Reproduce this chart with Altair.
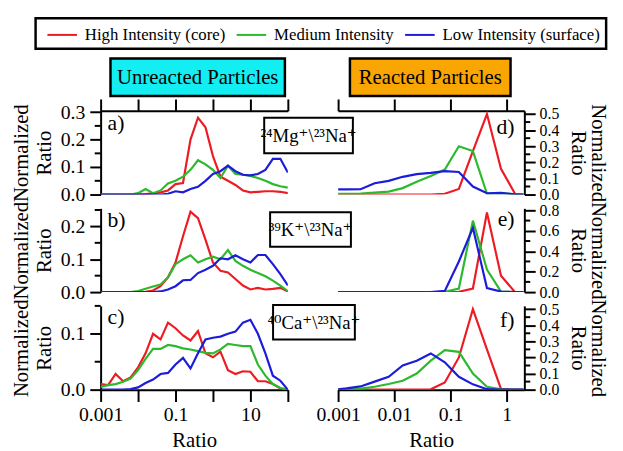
import altair as alt
import pandas as pd

FONT = "'Liberation Serif', 'Times New Roman', Tinos, 'DejaVu Serif', serif"
SERIES = ["High Intensity (core)", "Medium Intensity", "Low Intensity (surface)"]
COLORS = ["#ed1c24", "#2db92d", "#1c1cd9"]

# bin centres, as log10(ratio)
LEFT_LOG10 = [-3.0, -2.8, -2.6, -2.4, -2.2, -2.0, -1.8, -1.6, -1.4, -1.2, -1.0, -0.8, -0.6,
              -0.4, -0.2, 0.0, 0.2, 0.4, 0.6, 0.8, 1.0, 1.2, 1.4, 1.6, 1.8, 2.0]
RIGHT_LOG10 = [-3.0, -2.85, -2.6, -2.35, -2.1, -1.85, -1.6, -1.35, -1.1, -0.85, -0.6, -0.35,
               -0.1, 0.15, 0.3]

# a) 24Mg+/23Na+ unreacted
A_HIGH = [0, 0, 0, 0, 0, 0.001, 0.002, 0.004, 0.008, 0.015, 0.038, 0.042, 0.20, 0.28, 0.245,
          0.14, 0.065, 0.05, 0.035, 0.015, 0.008, 0.01, 0.012, 0.012, 0.01, 0.005]
A_MED = [0, 0, 0, 0, 0, 0.005, 0.02, 0.005, 0.015, 0.04, 0.05, 0.065, 0.09, 0.125, 0.11,
         0.09, 0.06, 0.105, 0.075, 0.072, 0.068, 0.06, 0.05, 0.038, 0.03, 0.025]
A_LOW = [0, 0, 0, 0, 0, 0, 0, 0, 0, 0.003, 0.012, 0.008, 0.02, 0.028, 0.05,
         0.075, 0.085, 0.105, 0.085, 0.072, 0.07, 0.075, 0.09, 0.13, 0.13, 0.08]
# b) 39K+/23Na+ unreacted
B_HIGH = [0, 0, 0, 0, 0, 0, 0.001, 0.005, 0.018, 0.045, 0.09, 0.17, 0.245, 0.225, 0.16,
          0.09, 0.065, 0.06, 0.04, 0.02, 0.008, 0.013, 0.008, 0.01, 0.013, 0.002]
B_MED = [0, 0, 0, 0, 0, 0.003, 0.01, 0.017, 0.023, 0.045, 0.085, 0.1, 0.112, 0.09, 0.1,
         0.108, 0.1, 0.128, 0.095, 0.08, 0.068, 0.058, 0.048, 0.035, 0.02, 0.003]
B_LOW = [0, 0, 0, 0, 0, 0, 0, 0, 0.002, 0.008, 0.018, 0.036, 0.037, 0.058, 0.068,
         0.08, 0.103, 0.1, 0.112, 0.1, 0.09, 0.113, 0.113, 0.085, 0.055, 0.02]
# c) 40Ca+/23Na+ unreacted
C_HIGH = [0.01, 0.008, 0.028, 0.015, 0.022, 0.04, 0.065, 0.1, 0.09, 0.12, 0.11, 0.097, 0.088,
          0.105, 0.065, 0.058, 0.068, 0.035, 0.028, 0.033, 0.032, 0.015, 0.015, 0.01, 0.002, 0.0]
C_MED = [0.005, 0.008, 0.01, 0.014, 0.02, 0.035, 0.055, 0.073, 0.073, 0.08, 0.078, 0.074, 0.072,
         0.069, 0.066, 0.065, 0.072, 0.082, 0.08, 0.078, 0.078, 0.045, 0.025, 0.01, 0.003, 0.0]
C_LOW = [0, 0, 0, 0, 0.001, 0.004, 0.012, 0.018, 0.028, 0.03, 0.045, 0.057, 0.038,
         0.065, 0.09, 0.093, 0.095, 0.1, 0.104, 0.12, 0.125, 0.1, 0.065, 0.025, 0.016, 0.0]
# d) reacted Mg
D_HIGH = [0, 0, 0, 0, 0, 0, 0, 0, 0.005, 0.035, 0.27, 0.5, 0.16, 0.005, 0]
D_MED = [0.005, 0.005, 0.006, 0.012, 0.018, 0.04, 0.08, 0.115, 0.155, 0.3, 0.27, 0.005, 0.008, 0.002, 0]
D_LOW = [0.032, 0.032, 0.033, 0.07, 0.085, 0.11, 0.127, 0.135, 0.145, 0.14, 0.05, 0.008, 0.01, 0.002, 0]
# e) reacted K
E_HIGH = [0, 0, 0, 0, 0, 0, 0, 0, 0, 0.003, 0.035, 0.78, 0.16, 0, 0]
E_MED = [0, 0, 0, 0, 0, 0, 0, 0, 0.003, 0.035, 0.7, 0.22, 0.005, 0, 0]
E_LOW = [0, 0, 0, 0, 0, 0, 0, 0, 0.012, 0.3, 0.63, 0.04, 0.005, 0, 0]
# f) reacted Ca
F_HIGH = [0, 0, 0, 0, 0, 0, 0, 0.002, 0.045, 0.2, 0.5, 0.25, 0.005, 0, 0]
F_MED = [0, 0.002, 0.006, 0.018, 0.035, 0.055, 0.1, 0.18, 0.245, 0.235, 0.1, 0.018, 0.002, 0, 0]
F_LOW = [0.002, 0.008, 0.02, 0.05, 0.08, 0.15, 0.18, 0.225, 0.17, 0.08, 0.033, 0.003, 0, 0, 0]

LEFT_X_TICKS = [0.001, 0.01, 0.1, 1, 10, 100]
RIGHT_X_TICKS = [0.001, 0.01, 0.1, 1]
LEFT_X_DOMAIN = [0.001, 100]
RIGHT_X_DOMAIN = [0.001, 2.07]

A_MAJOR, A_MINOR, A_DOM = [0.0, 0.1, 0.2, 0.3], [0.05, 0.15, 0.25], [0, 0.305]
B_MAJOR, B_MINOR, B_DOM = [0.0, 0.1, 0.2], [0.05, 0.15, 0.25], [0, 0.255]
C_MAJOR, C_MINOR, C_DOM = [0.0, 0.1], [0.05, 0.15], [0, 0.15]
D_MAJOR, D_MINOR, D_DOM = [0.0, 0.1, 0.2, 0.3, 0.4, 0.5], [0.05, 0.15, 0.25, 0.35, 0.45], [0, 0.52]
E_MAJOR, E_MINOR, E_DOM = [0.0, 0.2, 0.4, 0.6, 0.8], [0.1, 0.3, 0.5, 0.7], [0, 0.82]
F_MAJOR, F_MINOR, F_DOM = D_MAJOR, D_MINOR, [0, 0.52]

LW, RW, H = 190, 189, 85
ONE = pd.DataFrame({"k": [0]})
Y_TITLE = ["Normalized", "Ratio"]


def long_df(logx, high, med, low):
    rows = []
    for name, ys in zip(SERIES, [high, med, low]):
        for lx, y in zip(logx, ys):
            rows.append({"ratio": 10 ** lx, "value": y, "series": name})
    return pd.DataFrame(rows)


def text_at(txt, x, y, size, align="left", baseline="top"):
    return alt.Chart(ONE).mark_text(
        text=txt, font=FONT, fontSize=size, align=align, baseline=baseline, color="black"
    ).encode(x=alt.value(x), y=alt.value(y))


def box_at(x, x2, y, y2, fill, sw=2):
    return alt.Chart(ONE).mark_rect(fill=fill, stroke="black", strokeWidth=sw).encode(
        x=alt.value(x), x2=alt.value(x2), y=alt.value(y), y2=alt.value(y2))


def y_axis(side, majors):
    if side == "left":
        return alt.Axis(orient="left", values=majors, format=".1f", tickSize=11, labelPadding=5,
                        title=Y_TITLE, titlePadding=6, titleLineHeight=23,
                        labelOverlap=False, labelFlush=False)
    return alt.Axis(orient="right", values=majors, format=".1f", tickSize=11, labelPadding=4,
                    labelFontSize=16, title=Y_TITLE, titlePadding=9,
                    titleLineHeight=20, labelOverlap=False, labelFlush=False)


def minor_ticks(vals, ydom, yaxis, side, w):
    x0, x1 = (-6, 0) if side == "left" else (w, w + 6)
    return alt.Chart(pd.DataFrame({"value": vals})).mark_rule(color="black", strokeWidth=2).encode(
        y=alt.Y("value:Q", scale=alt.Scale(domain=ydom, nice=False, zero=True), axis=yaxis),
        x=alt.value(x0), x2=alt.value(x1))


def top_axis(ticks):
    return alt.Axis(orient="top", values=ticks, labels=False, tickSize=12, title=None)


def bottom_axis(ticks, expr):
    return alt.Axis(orient="bottom", values=ticks, tickSize=12, labelExpr=expr, labelPadding=3,
                    labelFlush=False, labelOverlap=False, title="Ratio", titlePadding=6)


def panel(df, xdom, xaxis, ydom, yaxis, minors, side, w, decor):
    lines = alt.Chart(df).mark_line(strokeWidth=2.2, clip=True).encode(
        x=alt.X("ratio:Q", scale=alt.Scale(type="log", domain=xdom, nice=False), axis=xaxis),
        y=alt.Y("value:Q", scale=alt.Scale(domain=ydom, nice=False, zero=True), axis=yaxis),
        color=alt.Color("series:N", scale=alt.Scale(domain=SERIES, range=COLORS),
                        legend=alt.Legend(title=None)),
    )
    return alt.layer(lines, minor_ticks(minors, ydom, yaxis, side, w), *decor).properties(
        width=w, height=H)


left_expr = ("(datum.value < 0.005 || (datum.value > 0.05 && datum.value < 0.5) || "
             "(datum.value > 5 && datum.value < 50)) ? format(datum.value, '~g') : ''")
right_expr = "format(datum.value, '~g')"

pa = panel(long_df(LEFT_LOG10, A_HIGH, A_MED, A_LOW), LEFT_X_DOMAIN, top_axis(LEFT_X_TICKS),
           A_DOM, y_axis("left", A_MAJOR), A_MINOR, "left", LW,
           [text_at("a)", 7, 3, 22),
            box_at(166, 256, 7, 43, "white"),
            text_at("²⁴Mg⁺\\²³Na⁺", 211, 26, 19, "center", "middle"),
            box_at(10, 187, -53, -15, "#12eef2", 2.5),
            text_at("Unreacted Particles", 98.5, -33, 21, "center", "middle")])
pb = panel(long_df(LEFT_LOG10, B_HIGH, B_MED, B_LOW), LEFT_X_DOMAIN, None,
           B_DOM, y_axis("left", B_MAJOR), B_MINOR, "left", LW,
           [text_at("b)", 7, 2, 22),
            box_at(172, 254, 4, 39, "white"),
            text_at("³⁹K⁺\\²³Na⁺", 213, 22, 19, "center", "middle")])
pc = panel(long_df(LEFT_LOG10, C_HIGH, C_MED, C_LOW), LEFT_X_DOMAIN,
           bottom_axis(LEFT_X_TICKS, left_expr),
           C_DOM, y_axis("left", C_MAJOR), C_MINOR, "left", LW,
           [text_at("c)", 7, 1, 22),
            box_at(175, 258, -1, 34, "white"),
            text_at("⁴⁰Ca⁺\\²³Na⁺", 216.5, 17, 19, "center", "middle")])

pd_ = panel(long_df(RIGHT_LOG10, D_HIGH, D_MED, D_LOW), RIGHT_X_DOMAIN, top_axis(RIGHT_X_TICKS),
            D_DOM, y_axis("right", D_MAJOR), D_MINOR, "right", RW,
            [text_at("d)", 179, 7, 22, "right"),
             box_at(12, 175, -53, -15, "#f9a602", 2.5),
             text_at("Reacted Particles", 93.5, -33, 21, "center", "middle")])
pe = panel(long_df(RIGHT_LOG10, E_HIGH, E_MED, E_LOW), RIGHT_X_DOMAIN, None,
           E_DOM, y_axis("right", E_MAJOR), E_MINOR, "right", RW,
           [text_at("e)", 179, 1, 22, "right")])
pf = panel(long_df(RIGHT_LOG10, F_HIGH, F_MED, F_LOW), RIGHT_X_DOMAIN,
           bottom_axis(RIGHT_X_TICKS, right_expr),
           F_DOM, y_axis("right", F_MAJOR), F_MINOR, "right", RW,
           [text_at("f)", 179, 4, 22, "right")])

chart = (
    alt.concat(pa, pd_, pb, pe, pc, pf, columns=2, spacing={"row": 14, "column": 51},
               bounds="flush")
    .properties(padding={"left": 2, "top": 5, "right": 6, "bottom": 0})
    .configure_view(stroke="transparent")
    .configure_axis(labelFont=FONT, labelFontSize=20, labelColor="black",
                    titleFont=FONT, titleFontSize=21, titleFontWeight="normal", titleColor="black",
                    domainColor="black", domainWidth=2, tickColor="black", tickWidth=2, grid=False)
    .configure_legend(orient="none", legendX=-66, legendY=-94, direction="horizontal",
                      strokeColor="black", strokeWidth=2.5, fillColor="white", padding=6,
                      labelFont=FONT, labelFontSize=17, labelColor="black",
                      symbolType="M-0.5,0H2.5", symbolSize=400, symbolStrokeWidth=2,
                      columnPadding=5, labelOffset=22)
)

chart.save("out.html", embed_options={"renderer": "svg", "actions": False})
